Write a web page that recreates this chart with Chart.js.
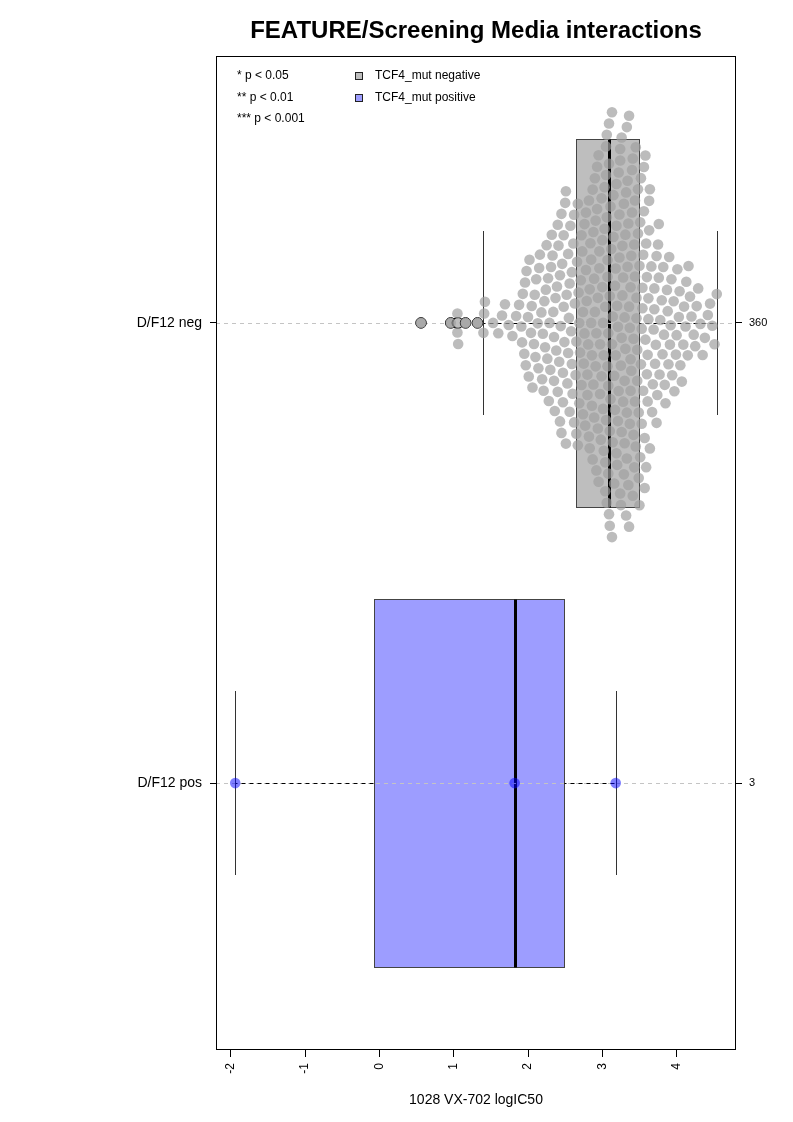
<!DOCTYPE html>
<html><head><meta charset="utf-8">
<script src="https://cdn.jsdelivr.net/npm/chart.js@4.4.1/dist/chart.umd.min.js"></script>
<style>html,body{margin:0;padding:0;background:#fff}canvas{display:block}</style>
</head><body>
<canvas id="c" width="793" height="1122"></canvas>
<script>
// ---------- data ----------
const categories = ["D/F12 neg", "D/F12 pos"];
const groupCounts = ["360", "3"];
const titleText = "FEATURE/Screening Media interactions";
const xAxisLabel = "1028 VX-702 logIC50";
const xTicks = [-2, -1, 0, 1, 2, 3, 4];
const legendLabels = ["TCF4_mut negative", "TCF4_mut positive"];
const pLabels = ["* p < 0.05", "** p < 0.01", "*** p < 0.001"];

// box stats: [lower whisker, Q1, median, Q3, upper whisker]
const negBox = [1.40, 2.64, 3.09, 3.49, 4.54];
const posBox = [-1.94, -0.07, 1.82, 2.49, 3.18];

const posValues = [-1.94, 1.82, 3.18];
const negValues = [
0.56, 0.96, 1.05, 1.05, 1.06, 1.16, 1.32,
1.40, 1.41, 1.42,
1.53, 1.60,
1.65, 1.69, 1.74,
1.79, 1.84, 1.88,
1.91, 1.92, 1.93, 1.95, 1.96, 1.97, 1.98, 2.00, 2.01, 2.02,
2.04, 2.05, 2.06, 2.08, 2.09, 2.10, 2.11, 2.13, 2.14, 2.15, 2.16,
2.18, 2.19, 2.20, 2.21, 2.22, 2.23, 2.24, 2.25, 2.26, 2.27, 2.28, 2.29, 2.30,
2.31, 2.32, 2.33, 2.34, 2.35, 2.35, 2.36, 2.37, 2.38, 2.39, 2.40, 2.40, 2.41, 2.42, 2.43, 2.43,
2.44, 2.45, 2.45, 2.46, 2.47, 2.47, 2.48, 2.48, 2.49, 2.50, 2.51, 2.51, 2.52, 2.53, 2.54, 2.54, 2.55, 2.56, 2.56, 2.57,
2.58, 2.59, 2.59, 2.60, 2.61, 2.62, 2.62, 2.63, 2.64, 2.65, 2.65, 2.66, 2.67, 2.67, 2.68, 2.69, 2.69, 2.70, 2.71,
2.72, 2.72, 2.73, 2.74, 2.74, 2.75, 2.76, 2.76, 2.77, 2.78, 2.78, 2.79, 2.80, 2.80, 2.81, 2.82, 2.82, 2.83, 2.83, 2.84,
2.85, 2.85, 2.86, 2.86, 2.87, 2.87, 2.88, 2.88, 2.89, 2.89, 2.90, 2.90, 2.91, 2.91, 2.92, 2.92, 2.93, 2.93, 2.94, 2.94, 2.95, 2.95, 2.96, 2.96, 2.97, 2.97, 2.98,
2.99, 2.99, 3.00, 3.00, 3.01, 3.01, 3.02, 3.02, 3.03, 3.03, 3.04, 3.04, 3.04, 3.05, 3.05, 3.05, 3.06, 3.06, 3.06, 3.07, 3.07, 3.07, 3.08, 3.08, 3.08, 3.09, 3.09, 3.09, 3.10, 3.10, 3.10, 3.11, 3.11,
3.12, 3.13, 3.13, 3.13, 3.14, 3.14, 3.15, 3.15, 3.16, 3.16, 3.17, 3.17, 3.18, 3.18, 3.19, 3.19, 3.19, 3.20, 3.20, 3.21, 3.21, 3.22, 3.22, 3.23, 3.23, 3.24, 3.24, 3.24, 3.25, 3.25,
3.26, 3.26, 3.26, 3.27, 3.27, 3.28, 3.28, 3.29, 3.29, 3.30, 3.30, 3.30, 3.31, 3.31, 3.32, 3.32, 3.33, 3.33, 3.33, 3.34, 3.34, 3.35, 3.35, 3.36, 3.36, 3.36, 3.37, 3.37, 3.38, 3.38, 3.38,
3.39, 3.39, 3.40, 3.40, 3.41, 3.41, 3.42, 3.42, 3.43, 3.43, 3.44, 3.44, 3.44, 3.45, 3.45, 3.46, 3.46, 3.47, 3.47, 3.48, 3.48, 3.49, 3.49, 3.50, 3.50, 3.51, 3.51, 3.52, 3.52,
3.53, 3.53, 3.54, 3.54, 3.55, 3.55, 3.56, 3.56, 3.57, 3.57, 3.58, 3.58, 3.59, 3.59, 3.60, 3.60, 3.61, 3.61, 3.62, 3.62, 3.63, 3.63, 3.64, 3.64,
3.66, 3.67, 3.68, 3.69, 3.70, 3.70, 3.71, 3.72, 3.73, 3.73, 3.74, 3.75, 3.76, 3.76, 3.77, 3.78,
3.80, 3.81, 3.82, 3.83, 3.84, 3.85, 3.87, 3.88, 3.89, 3.90, 3.91, 3.92,
3.93, 3.94, 3.96, 3.97, 3.99, 4.00, 4.01, 4.03, 4.04, 4.05,
4.07, 4.09, 4.10, 4.12, 4.13, 4.15, 4.16, 4.18,
4.20, 4.23, 4.25, 4.27, 4.29, 4.32,
4.35, 4.38, 4.42, 4.45,
4.48, 4.51, 4.54
];

// ---------- styling ----------
const FONT = '"Liberation Sans", Arial, Helvetica, sans-serif';
const negFill = '#BEBEBE';
const posFill = '#9D9DFF';
const negPoint = 'rgba(160,160,160,0.7)';
const posPoint = 'rgba(0,0,255,0.5)';
const groups = [
  {pos: 1, stats: negBox, fill: negFill},
  {pos: 2, stats: posBox, fill: posFill}
];

const drawPlugin = {
  id: 'boxdraw',
  beforeDatasetsDraw(chart) {
    const {ctx, chartArea: a, scales: {x, y}} = chart;
    ctx.save();
    groups.forEach(g => {
      const s = g.stats;
      const yc = Math.round(y.getPixelForValue(g.pos)) + 0.5;
      const y1 = y.getPixelForValue(g.pos - 0.4), y2 = y.getPixelForValue(g.pos + 0.4);
      const yt = Math.round(Math.min(y1, y2)) + 0.5, yb = Math.round(Math.max(y1, y2)) + 0.5;
      const s1 = y.getPixelForValue(g.pos - 0.2), s2 = y.getPixelForValue(g.pos + 0.2);
      const st = Math.round(Math.min(s1, s2)), sb = Math.round(Math.max(s1, s2));
      const xw0 = Math.round(x.getPixelForValue(s[0])) + 0.5;
      const xq1 = Math.round(x.getPixelForValue(s[1])) + 0.5;
      const xm = Math.round(x.getPixelForValue(s[2]));
      const xq3 = Math.round(x.getPixelForValue(s[3])) + 0.5;
      const xw1 = Math.round(x.getPixelForValue(s[4])) + 0.5;
      ctx.fillStyle = g.fill;
      ctx.fillRect(xq1, yt, xq3 - xq1, yb - yt);
      ctx.strokeStyle = '#444';
      ctx.lineWidth = 1;
      ctx.setLineDash([]);
      ctx.strokeRect(xq1, yt, xq3 - xq1, yb - yt);
      ctx.strokeStyle = '#000';
      ctx.lineWidth = 3;
      ctx.beginPath(); ctx.moveTo(xm + 0.5, yt); ctx.lineTo(xm + 0.5, yb); ctx.stroke();
      ctx.lineWidth = 1;
      ctx.strokeStyle = '#C4C4C4';
      ctx.setLineDash([4, 4]);
      ctx.beginPath(); ctx.moveTo(a.left, yc); ctx.lineTo(a.right, yc); ctx.stroke();
      ctx.strokeStyle = '#000';
      ctx.lineDashOffset = 2;
      ctx.beginPath();
      ctx.moveTo(xw0, yc); ctx.lineTo(xq1, yc);
      ctx.moveTo(xq3, yc); ctx.lineTo(xw1, yc);
      ctx.stroke();
      ctx.lineDashOffset = 0;
      ctx.setLineDash([]);
      ctx.strokeStyle = '#333';
      ctx.beginPath();
      ctx.moveTo(xw0, st); ctx.lineTo(xw0, sb);
      ctx.moveTo(xw1, st); ctx.lineTo(xw1, sb);
      ctx.stroke();
    });
    ctx.restore();
  },
  afterDatasetsDraw(chart) {
    const {ctx, chartArea: a} = chart;
    ctx.save();
    ctx.strokeStyle = '#000';
    ctx.lineWidth = 1;
    ctx.setLineDash([]);
    ctx.strokeRect(Math.round(a.left) + 0.5, Math.round(a.top) + 0.5,
                   Math.round(a.right - a.left) - 1, Math.round(a.bottom - a.top) - 1);
    const cx = (a.left + a.right) / 2;
    ctx.fillStyle = '#000';
    ctx.textAlign = 'center';
    ctx.textBaseline = 'middle';
    ctx.font = 'bold 24px ' + FONT;
    ctx.fillText(titleText, cx, 31);
    ctx.font = '14px ' + FONT;
    ctx.fillText(xAxisLabel, cx, 1100);
    ctx.font = '12px ' + FONT;
    ctx.textAlign = 'left';
    pLabels.forEach((t, i) => ctx.fillText(t, a.left + 21, a.top + 20 + i * 21.5));
    [negFill, posFill].forEach((c, i) => {
      const ly = Math.round(a.top + 20 + i * 21.5);
      ctx.fillStyle = c;
      ctx.fillRect(355.5, ly - 3.5, 7, 7);
      ctx.strokeStyle = '#222';
      ctx.strokeRect(355.5, ly - 3.5, 7, 7);
      ctx.fillStyle = '#000';
      ctx.fillText(legendLabels[i], 375, a.top + 20 + i * 21.5);
    });
    ctx.restore();
  }
};

const outliers = negValues.filter(v => v < negBox[0] || v > negBox[4]).map(v => ({x: v, y: 1}));

const chart = new Chart(document.getElementById('c'), {
  type: 'scatter',
  data: {
    datasets: [
      {label: 'neg', data: [], pointRadius: 5.3, pointBorderWidth: 0, backgroundColor: negPoint, borderColor: 'rgba(0,0,0,0)'},
      {label: 'pos', data: [], pointRadius: 5.3, pointBorderWidth: 0, backgroundColor: posPoint, borderColor: 'rgba(0,0,0,0)'},
      {label: 'outliers', data: outliers, pointRadius: 5.3, pointBorderWidth: 1, backgroundColor: negFill, borderColor: '#000'}
    ]
  },
  options: {
    responsive: false,
    animation: false,
    devicePixelRatio: 1,
    layout: {padding: {top: 56, left: 0, right: 0, bottom: 0}},
    plugins: {legend: {display: false}, tooltip: {enabled: false}, title: {display: false}},
    scales: {
      x: {
        type: 'linear', position: 'bottom', min: -2.199, max: 4.799,
        afterBuildTicks: s => { s.ticks = xTicks.map(v => ({value: v})); },
        afterFit: s => { s.height = 72; },
        ticks: {autoSkip: false, minRotation: 90, maxRotation: 90, padding: 6, color: '#000',
                font: {family: FONT, size: 12}, callback: v => String(v)},
        grid: {drawOnChartArea: false, drawTicks: true, tickLength: 7, tickColor: '#000', color: '#000'},
        border: {display: false}
      },
      y: {
        type: 'linear', position: 'left', reverse: true, min: 0.42, max: 2.58,
        afterBuildTicks: s => { s.ticks = categories.map((c, i) => ({value: i + 1})); },
        afterFit: s => { s.width = 216; },
        ticks: {padding: 8, color: '#000', font: {family: FONT, size: 14},
                callback: v => categories[Math.round(v) - 1]},
        grid: {drawOnChartArea: false, tickLength: 6, tickColor: '#000', color: '#000'},
        border: {display: false}
      },
      y2: {
        type: 'linear', position: 'right', reverse: true, min: 0.42, max: 2.58,
        afterBuildTicks: s => { s.ticks = groupCounts.map((c, i) => ({value: i + 1})); },
        afterFit: s => { s.width = 57; },
        ticks: {padding: 7, color: '#000', font: {family: FONT, size: 11},
                callback: v => groupCounts[Math.round(v) - 1]},
        grid: {drawOnChartArea: false, tickLength: 6, tickColor: '#000', color: '#000'},
        border: {display: false}
      }
    }
  },
  plugins: [drawPlugin]
});

// beeswarm layout (swarm method, ascending priority) in pixel space
function swarm(values, cat) {
  const xs = chart.scales.x, ys = chart.scales.y;
  const ppu = Math.abs(ys.getPixelForValue(2) - ys.getPixelForValue(1));
  const d = 11.6;
  const placed = [];
  const out = [];
  values.slice().sort((p, q) => p - q).forEach(v => {
    const px = xs.getPixelForValue(v);
    const near = placed.filter(p => Math.abs(p.x - px) < d);
    const cands = [0];
    near.forEach(p => {
      const h = Math.sqrt(d * d - (p.x - px) * (p.x - px));
      cands.push(p.y + h, p.y - h);
    });
    cands.sort((p, q) => Math.abs(p) - Math.abs(q) || q - p);
    let off = 0;
    for (const c of cands) {
      if (near.every(p => (p.x - px) * (p.x - px) + (p.y - c) * (p.y - c) >= d * d - 0.01)) { off = c; break; }
    }
    placed.push({x: px, y: off});
    out.push({x: v, y: cat + off / ppu});
  });
  return out;
}
chart.data.datasets[0].data = swarm(negValues, 1);
chart.data.datasets[1].data = swarm(posValues, 2);
chart.update('none');
</script>
</body></html>
